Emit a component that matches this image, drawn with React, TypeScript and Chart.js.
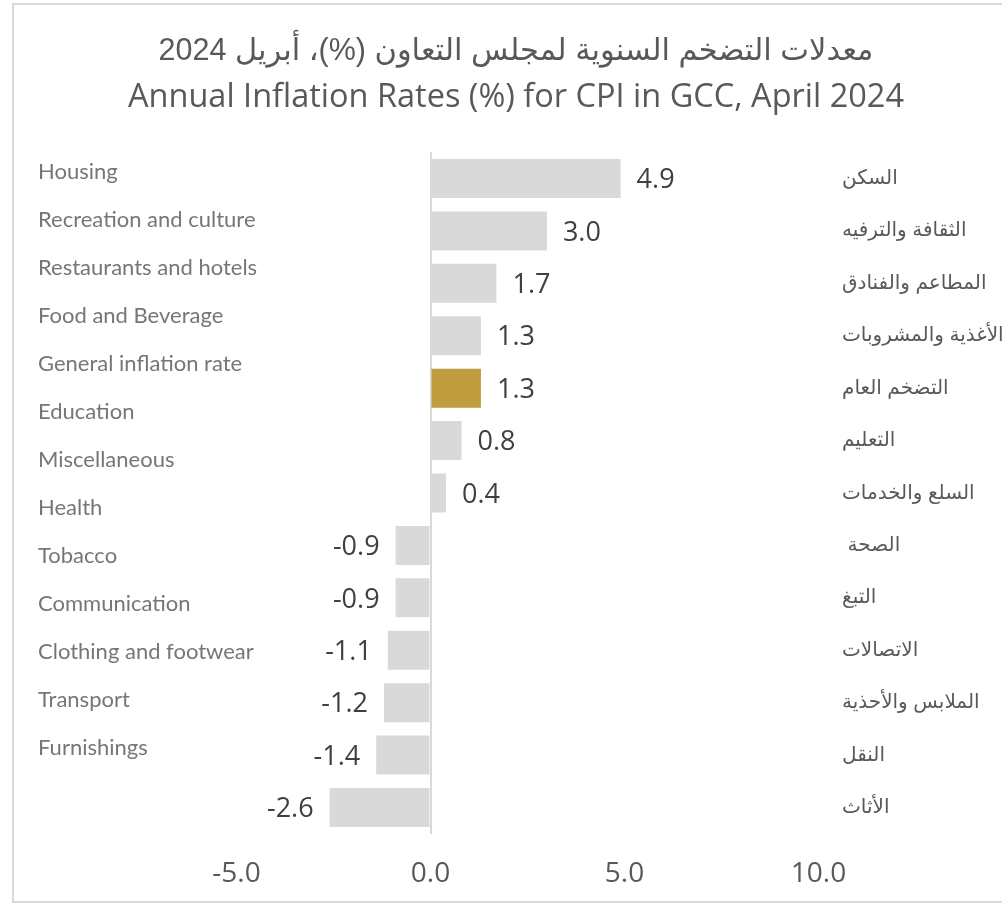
import React, { useEffect, useRef } from "react";
import { Chart, registerables } from "chart.js";

Chart.register(...registerables);

const titleArabic = "معدلات التضخم السنوية لمجلس التعاون (%)، أبريل 2024";
const titleEnglish = "Annual Inflation Rates (%) for CPI in GCC, April 2024";

const englishLabels = [
  "Housing",
  "Recreation and culture",
  "Restaurants and hotels",
  "Food and Beverage",
  "General inflation rate",
  "Education",
  "Miscellaneous",
  "Health",
  "Tobacco",
  "Communication",
  "Clothing and footwear",
  "Transport",
  "Furnishings",
];

const arabicLabels = [
  "السكن",
  "الثقافة والترفيه",
  "المطاعم والفنادق",
  "الأغذية والمشروبات",
  "التضخم العام",
  "التعليم",
  "السلع والخدمات",
  " الصحة",
  "التبغ",
  "الاتصالات",
  "الملابس والأحذية",
  "النقل",
  "الأثاث",
];

const inflationValues = [4.9, 3.0, 1.7, 1.3, 1.3, 0.8, 0.4, -0.9, -0.9, -1.1, -1.2, -1.4, -2.6];
const highlightedCategory = "التضخم العام";

const xMin = -5;
const xMax = 10;
const xStep = 5;

const GRAY = "#d9d9d9";
const GOLD = "#c19d3f";
const OPEN = "'Open Sans', sans-serif";
const LATO = "Lato, sans-serif";
const ARABIC = "'Liberation Sans', 'DejaVu Sans', sans-serif";

const dataLabelPlugin = {
  id: "dataLabels",
  afterDatasetsDraw(chart: any) {
    const ctx = chart.ctx;
    const meta = chart.getDatasetMeta(0);
    ctx.save();
    ctx.font = `27px ${OPEN}`;
    ctx.fillStyle = "#404040";
    ctx.textBaseline = "middle";
    meta.data.forEach((el: any, i: number) => {
      const v = inflationValues[i];
      const txt = v.toFixed(1);
      if (v >= 0) {
        ctx.textAlign = "left";
        ctx.fillText(txt, el.x + 16, el.y + 2);
      } else {
        ctx.textAlign = "right";
        ctx.fillText(txt, el.x - 16, el.y + 2);
      }
    });
    ctx.restore();
  },
};

export default function App() {
  const ref = useRef<HTMLCanvasElement | null>(null);

  useEffect(() => {
    if (!ref.current) return;
    const chart = new Chart(ref.current, {
      type: "bar",
      data: {
        labels: arabicLabels,
        datasets: [
          {
            data: inflationValues,
            backgroundColor: arabicLabels.map((l) => (l === highlightedCategory ? GOLD : GRAY)),
            borderWidth: 0,
            barPercentage: 0.745,
            categoryPercentage: 1,
            xAxisID: "x",
            yAxisID: "y",
          },
        ],
      },
      options: {
        indexAxis: "y",
        animation: false,
        responsive: false,
        devicePixelRatio: 1,
        layout: { padding: { left: 30, right: 0, top: 0, bottom: 0 } },
        plugins: {
          legend: { display: false },
          tooltip: { enabled: false },
          title: {
            display: true,
            text: titleArabic,
            color: "#595959",
            font: { family: ARABIC, size: 30.5, weight: "normal", lineHeight: 1.2 },
            padding: { top: 33, bottom: 0 },
          },
          subtitle: {
            display: true,
            text: titleEnglish,
            color: "#595959",
            font: { family: OPEN, size: 32.5, weight: "normal", lineHeight: 1.2 },
            padding: { top: 8.9, bottom: 34.8 },
          },
        },
        scales: {
          x: {
            type: "linear",
            position: "bottom",
            min: xMin,
            max: xMax,
            ticks: {
              stepSize: xStep,
              padding: 24,
              color: "#595959",
              font: { family: OPEN, size: 28, lineHeight: 1.2 },
              callback: (v: any) => Number(v).toFixed(1),
            },
            grid: {
              drawTicks: false,
              lineWidth: 2,
              color: (c: any) => (c.tick && c.tick.value === 0 ? GRAY : "rgba(0,0,0,0)"),
            },
            border: { display: false },
            afterFit: (s: any) => {
              s.height = 70.3;
            },
          },
          y: {
            type: "category",
            position: "right",
            ticks: {
              padding: 23.5,
              crossAlign: "near",
              color: "#595959",
              autoSkip: false,
              font: { family: ARABIC, size: 20 },
            },
            grid: { display: false, drawTicks: false },
            border: { display: false },
            afterFit: (s: any) => {
              s.width = 183.5;
            },
          },
          yEn: {
            type: "linear",
            position: "left",
            reverse: true,
            offset: false,
            bounds: "data",
            min: -0.413,
            max: 13.792,
            afterBuildTicks: (s: any) => {
              s.ticks = englishLabels.map((_, i) => ({ value: i }));
            },
            ticks: {
              mirror: true,
              crossAlign: "near",
              autoSkip: false,
              padding: -198.5,
              color: "#767676",
              font: { family: LATO, size: 22 },
              callback: (v: any) => englishLabels[v] ?? "",
            },
            grid: { display: false, drawTicks: false, offset: false },
            border: { display: false },
            afterFit: (s: any) => {
              s.width = 206.5;
            },
          },
        },
      },
      plugins: [dataLabelPlugin],
    } as any);
    return () => chart.destroy();
  }, []);

  return (
    <div
      style={{
        position: "absolute",
        left: 0,
        top: 0,
        width: 1002,
        height: 904,
        overflow: "hidden",
        background: "#ffffff",
      }}
    >
      <div
        style={{
          position: "absolute",
          left: 12,
          top: 3,
          width: 1100,
          height: 900,
          boxSizing: "border-box",
          border: `2px solid ${GRAY}`,
        }}
      />
      <canvas
        ref={ref}
        width={1002}
        height={904}
        style={{ position: "absolute", left: 0, top: 0, width: 1002, height: 904 }}
      />
    </div>
  );
}
